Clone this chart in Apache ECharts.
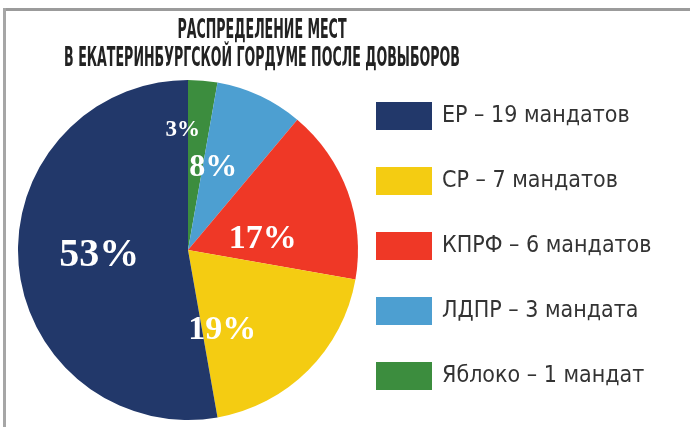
<!DOCTYPE html>
<html>
<head>
<meta charset="utf-8">
<script src="https://cdn.jsdelivr.net/npm/echarts@6/dist/echarts.min.js"></script>
<style>
html,body{margin:0;padding:0;background:#fff;}
#main{width:690px;height:427px;}
</style>
</head>
<body>
<div id="main"></div>
<script>
// Data
var categories = ['ЕР', 'СР', 'КПРФ', 'ЛДПР', 'Яблоко'];
var seats = [19, 7, 6, 3, 1];
var seatWords = ['мандатов', 'мандатов', 'мандатов', 'мандата', 'мандат'];
var titleLines = ['РАСПРЕДЕЛЕНИЕ МЕСТ', 'В ЕКАТЕРИНБУРГСКОЙ ГОРДУМЕ ПОСЛЕ ДОВЫБОРОВ'];

// Styles
var colors = ['#22386a', '#f4cc12', '#ef3826', '#4d9fd1', '#3c8d3e'];
var labelSizes = [40, 34, 34, 32, 23];
var labelNudge = [[-1, -2], [-28, 18], [-8, 19], [-12, -3], [-13, -32]];

var sansNarrow = "'Liberation Sans Narrow', 'DejaVu Sans Condensed', sans-serif";

var pieData = [];
for (var i = categories.length - 1; i >= 0; i--) {
  pieData.push({
    name: categories[i],
    value: seats[i],
    itemStyle: { color: colors[i] },
    label: { fontSize: labelSizes[i] }
  });
}

var chart = echarts.init(document.getElementById('main'), null, { renderer: 'canvas' });
chart.setOption({
  animation: false,
  graphic: [
    { type: 'rect', shape: { x: 3, y: 8, width: 687, height: 3 }, style: { fill: '#9b9b9b' }, silent: true },
    { type: 'rect', shape: { x: 3, y: 8, width: 3, height: 419 }, style: { fill: '#a6a6a6' }, silent: true },
    {
      type: 'text', x: 262, y: 45, scaleX: 0.54, silent: true,
      style: {
        text: titleLines.join('\n'),
        font: 'bold 26px ' + sansNarrow,
        fill: '#222222',
        align: 'center',
        verticalAlign: 'middle',
        lineHeight: 28
      }
    }
  ],
  legend: {
    orient: 'vertical',
    left: 376,
    top: 102,
    padding: 0,
    itemWidth: 56,
    itemHeight: 28,
    itemGap: 37,
    icon: 'rect',
    data: categories,
    selectedMode: false,
    formatter: function (name) {
      var k = categories.indexOf(name);
      return name + ' – ' + seats[k] + ' ' + seatWords[k];
    },
    textStyle: {
      fontFamily: sansNarrow,
      fontSize: 23,
      color: '#333333',
      padding: [0, 0, 0, 5]
    }
  },
  series: [{
    type: 'pie',
    center: [188, 250],
    radius: [0, 170],
    startAngle: 90,
    clockwise: true,
    avoidLabelOverlap: false,
    emphasis: { disabled: true },
    label: {
      position: 'inside',
      color: '#ffffff',
      fontFamily: "'Liberation Serif', 'DejaVu Serif', serif",
      fontWeight: 'bold',
      formatter: function (p) { return Math.round(p.percent) + '%'; }
    },
    labelLayout: function (params) {
      var k = categories.indexOf(pieData[params.dataIndex].name);
      return { dx: labelNudge[k][0], dy: labelNudge[k][1] };
    },
    itemStyle: { borderWidth: 0 },
    data: pieData
  }]
});
</script>
</body>
</html>
